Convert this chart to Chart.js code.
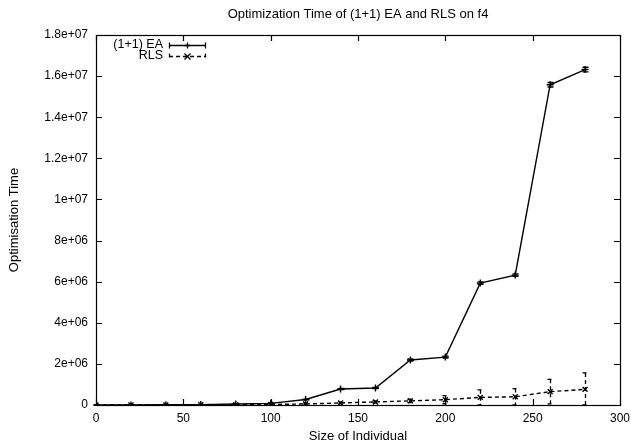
<!DOCTYPE html>
<html>
<head>
<meta charset="utf-8">
<script src="https://cdn.jsdelivr.net/npm/chart.js@4/dist/chart.umd.min.js"></script>
<style>
  html, body { margin: 0; padding: 0; background: #fff; }
  #wrap { width: 631px; height: 442px; }
</style>
</head>
<body>
<div id="wrap"><canvas id="chart" width="631" height="442"></canvas></div>
<script>
// values
const sizes = [0, 20, 40, 60, 80, 100, 120, 140, 160, 180, 200, 220, 240, 260, 280];
const eaMean = [0, 3e3, 1e4, 2e4, 5e4, 8e4, 2.7e5, 7.8e5, 8.3e5, 2.19e6, 2.33e6, 5.93e6, 6.32e6, 15.58e6, 16.32e6];
const eaErr = [0, 0, 0, 0, 5e3, 1e4, 2e4, 3e4, 3e4, 5e4, 5e4, 6e4, 6e4, 1.1e5, 1.1e5];
const rlsMean = [0, 2e3, 5e3, 1e4, 1.5e4, 2.5e4, 5e4, 1e5, 1.5e5, 2e5, 2.6e5, 3.7e5, 4e5, 6.5e5, 7.6e5];
const rlsErr = [0, 1e3, 2e3, 5e3, 8e3, 1.5e4, 3e4, 4e4, 5e4, 8e4, 2e5, 3.7e5, 4e5, 6e5, 8e5];
const xTicks = [0, 50, 100, 150, 200, 250, 300];
const yTicks = [0, 2e6, 4e6, 6e6, 8e6, 1e7, 1.2e7, 1.4e7, 1.6e7, 1.8e7];

const FAMILY = '"Liberation Sans", Arial, sans-serif';

function gnuFmt(v) {
    if (v === 0) return '0';
    let e = Math.floor(Math.log10(Math.abs(v)) + 1e-9);
    let m = v / Math.pow(10, e);
    m = Math.round(m * 1000) / 1000;
    let es = (e < 10 ? '0' : '') + e;
    return m + 'e+' + es;
}

function toPoints(ys) {
    return sizes.map((x, i) => ({ x: x, y: ys[i] }));
}

function drawMarker(ctx, style, x, y, r) {
    ctx.beginPath();
    if (style === 'plus') {
        ctx.moveTo(x - r, y); ctx.lineTo(x + r, y);
        ctx.moveTo(x, y - r); ctx.lineTo(x, y + r);
    } else {
        ctx.moveTo(x - r, y - r); ctx.lineTo(x + r, y + r);
        ctx.moveTo(x - r, y + r); ctx.lineTo(x + r, y - r);
    }
    ctx.stroke();
}

const gnuplotLook = {
    id: 'gnuplotLook',
    afterDatasetsDraw(chart) {
        const ctx = chart.ctx;
        const xs = chart.scales.x, ys = chart.scales.y;
        const sets = [[eaMean, eaErr, []], [rlsMean, rlsErr, [4, 3]]];
        ctx.save();
        ctx.strokeStyle = '#000';
        ctx.lineWidth = 1.3;
        sets.forEach(([mean, err, dash]) => {
            ctx.setLineDash(dash);
            sizes.forEach((s, i) => {
                const px = Math.round(xs.getPixelForValue(s)) + 0.5;
                const top = ys.getPixelForValue(mean[i] + err[i]);
                const bot = ys.getPixelForValue(Math.max(0, mean[i] - err[i]));
                ctx.beginPath();
                ctx.moveTo(px, top); ctx.lineTo(px, bot);
                ctx.moveTo(px - 3, top); ctx.lineTo(px + 3, top);
                ctx.moveTo(px - 3, bot); ctx.lineTo(px + 3, bot);
                ctx.stroke();
            });
        });
        ctx.restore();
    },
    afterDraw(chart) {
        const ctx = chart.ctx;
        const a = chart.chartArea;
        const xs = chart.scales.x, ys = chart.scales.y;
        ctx.save();
        ctx.strokeStyle = '#000';
        ctx.fillStyle = '#000';
        ctx.lineWidth = 1.2;
        // frame
        ctx.strokeRect(Math.round(a.left) + 0.5, Math.round(a.top) + 0.5,
            Math.round(a.right - a.left), Math.round(a.bottom - a.top));
        // inward ticks, mirrored
        ctx.beginPath();
        xTicks.forEach(t => {
            const px = Math.round(xs.getPixelForValue(t)) + 0.5;
            ctx.moveTo(px, a.bottom); ctx.lineTo(px, a.bottom - 6);
            ctx.moveTo(px, a.top); ctx.lineTo(px, a.top + 6);
        });
        yTicks.forEach(t => {
            const py = Math.round(ys.getPixelForValue(t)) + 0.5;
            ctx.moveTo(a.left, py); ctx.lineTo(a.left + 6, py);
            ctx.moveTo(a.right, py); ctx.lineTo(a.right - 6, py);
        });
        ctx.stroke();

        // texts
        ctx.font = '13px ' + FAMILY;
        ctx.textAlign = 'center';
        ctx.textBaseline = 'middle';
        ctx.fillText('Optimization Time of (1+1) EA and RLS on f4', (a.left + a.right) / 2, 14);
        ctx.fillText('Size of Individual', (a.left + a.right) / 2, 436);
        ctx.save();
        ctx.translate(14, (a.top + a.bottom) / 2);
        ctx.rotate(-Math.PI / 2);
        ctx.fillText('Optimisation Time', 0, 0);
        ctx.restore();

        // legend
        ctx.font = '12.5px ' + FAMILY;
        const rows = [
            ['(1+1) EA', [], 'plus', 45],
            ['RLS', [4, 3], 'cross', 56]
        ];
        rows.forEach(([label, dash, mk, y]) => {
            ctx.textAlign = 'right';
            ctx.setLineDash([]);
            ctx.fillText(label, 163, y);
            const yy = y + 0.5;
            ctx.lineWidth = 1.3;
            ctx.setLineDash(dash);
            ctx.beginPath();
            ctx.moveTo(169, yy); ctx.lineTo(206, yy);
            ctx.moveTo(169.5, yy - 3); ctx.lineTo(169.5, yy + 3);
            ctx.moveTo(205.5, yy - 3); ctx.lineTo(205.5, yy + 3);
            ctx.stroke();
            ctx.setLineDash([]);
            drawMarker(ctx, mk, 187.5, yy, 3);
        });
        ctx.restore();
    }
};

new Chart(document.getElementById('chart'), {
    type: 'line',
    data: {
        datasets: [
            {
                label: '(1+1) EA',
                data: toPoints(eaMean),
                borderColor: '#000',
                borderWidth: 1.4,
                pointStyle: 'cross',
                pointRadius: 3.5,
                pointBorderColor: '#000',
                pointBorderWidth: 1.4,
                fill: false,
                tension: 0
            },
            {
                label: 'RLS',
                data: toPoints(rlsMean),
                borderColor: '#000',
                borderWidth: 1.4,
                borderDash: [4, 3],
                pointStyle: 'crossRot',
                pointRadius: 3.5,
                pointBorderColor: '#000',
                pointBorderWidth: 1.4,
                fill: false,
                tension: 0
            }
        ]
    },
    options: {
        responsive: false,
        animation: false,
        layout: { padding: { left: 0, top: 35, right: 11, bottom: 0 } },
        plugins: {
            legend: { display: false },
            title: { display: false },
            tooltip: { enabled: false }
        },
        scales: {
            x: {
                type: 'linear',
                min: 0,
                max: 300,
                afterBuildTicks(scale) { scale.ticks = xTicks.map(v => ({ value: v })); },
                afterFit(scale) {
                    scale.height = 37;
                    scale.paddingLeft = 0;
                    scale.paddingRight = 0;
                },
                grid: { display: false, drawTicks: false },
                border: { display: false },
                ticks: {
                    color: '#000',
                    font: { family: FAMILY, size: 12 },
                    padding: 6,
                    maxRotation: 0,
                    callback: v => String(v)
                }
            },
            y: {
                type: 'linear',
                min: 0,
                max: 1.8e7,
                afterBuildTicks(scale) { scale.ticks = yTicks.map(v => ({ value: v })); },
                afterFit(scale) {
                    scale.width = 96;
                    scale.paddingTop = 0;
                    scale.paddingBottom = 0;
                },
                grid: { display: false, drawTicks: false },
                border: { display: false },
                ticks: {
                    color: '#000',
                    font: { family: FAMILY, size: 12 },
                    padding: 8,
                    callback: v => gnuFmt(v)
                }
            }
        }
    },
    plugins: [gnuplotLook]
});
</script>
</body>
</html>
